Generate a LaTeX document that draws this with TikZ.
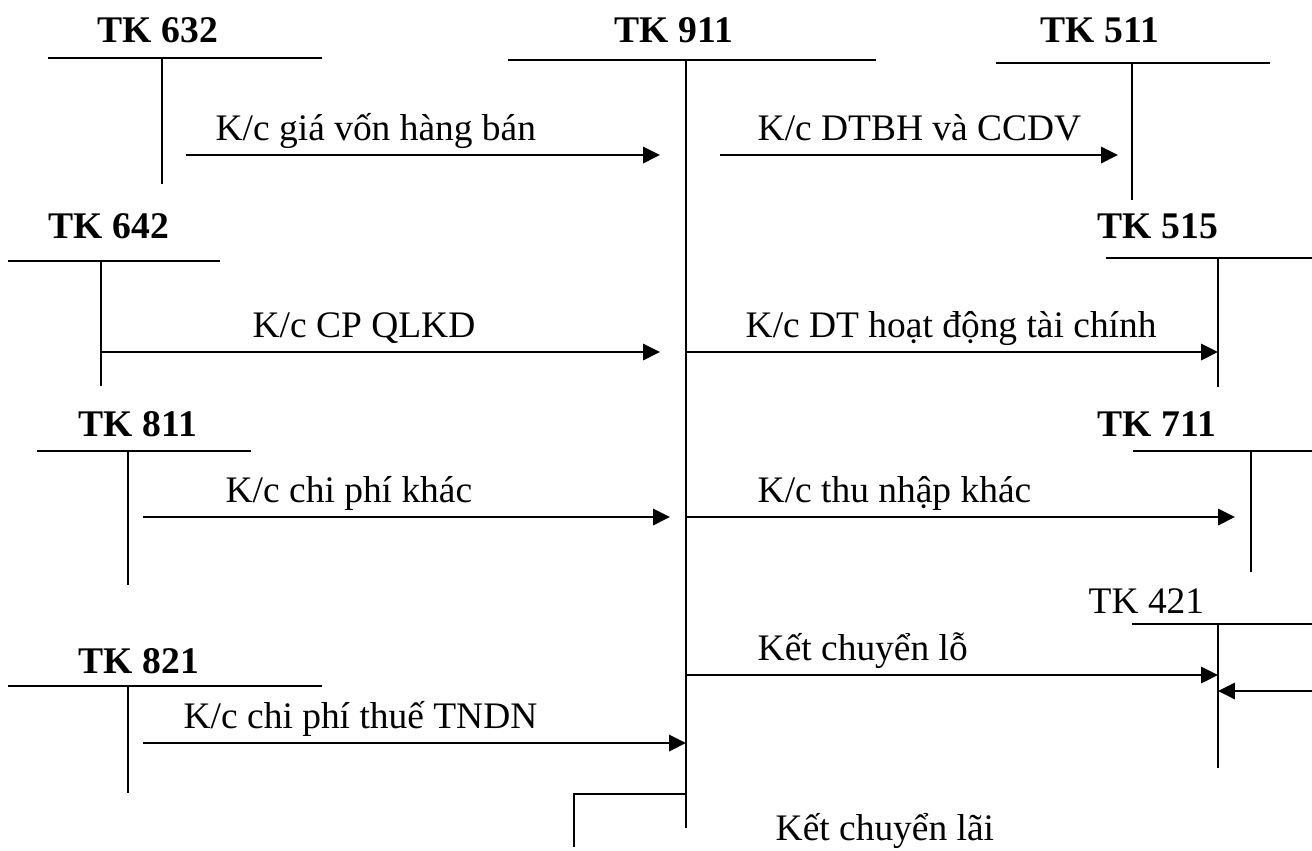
\documentclass[tikz,border=0pt]{standalone}
\usepackage{fontspec}
\setmainfont{Liberation Serif}
\usetikzlibrary{calc, positioning}
\usetikzlibrary{arrows.meta}

\tikzset{
  tline/.style={line width=0.6pt},
  flow/.style={line width=0.7pt, -{Triangle[length=4.8pt, width=4.6pt]}},
  title/.style={anchor=base west, inner sep=0pt, font=\fontsize{10.7pt}{13pt}\selectfont\bfseries},
  plain/.style={anchor=base west, inner sep=0pt, font=\fontsize{10.65pt}{13pt}\selectfont},
}

\begin{document}
\begin{tikzpicture}[x=0.01cm, y=-0.01cm]
\useasboundingbox (0,0) rectangle (1312,850);

% T-accounts
\draw[tline] (48,58) -- (322,58);   \draw[tline] (162,58) -- (162,184);
\draw[tline] (508,60) -- (876,60);  \draw[tline] (686,60) -- (686,828);
\draw[tline] (996,63) -- (1270,63); \draw[tline] (1132,63) -- (1132,200);
\draw[tline] (8,261) -- (220,261);  \draw[tline] (101,261) -- (101,386);
\draw[tline] (1106,258) -- (1312,258); \draw[tline] (1218,258) -- (1218,387);
\draw[tline] (37,451) -- (251,451); \draw[tline] (128,451) -- (128,585);
\draw[tline] (1133,451) -- (1312,451); \draw[tline] (1251,451) -- (1251,572);
\draw[tline] (1132,624) -- (1312,624); \draw[tline] (1218,624) -- (1218,768);
\draw[tline] (8,686) -- (322,686);  \draw[tline] (128,686) -- (128,793);
\draw[tline] (686,794) -- (574,794) -- (574,847);

\node[title] (tk632) at (97,42) {TK 632};
\node[title] (tk911) at (614,42) {TK 911};
\node[title] (tk511) at (1040,42) {TK 511};
\node[title] (tk642) at (48,238) {TK 642};
\node[title] (tk515) at (1097,238) {TK 515};
\node[title] (tk811) at (78,436) {TK 811};
\node[title] (tk711) at (1097,436) {TK 711};
\node[plain] (tk421) at (1088,613) {TK 421};
\node[title] (tk821) at (78,673) {TK 821};

% arrow ends
\coordinate (gvS) at (186,155);  \coordinate (gvE) at (660,155);
\coordinate (dtS) at (720,155);  \coordinate (dtE) at (1118,155);
\coordinate (qlS) at (101,352);  \coordinate (qlE) at (660,352);
\coordinate (tcS) at (686,352);  \coordinate (tcE) at (1218,352);
\coordinate (cpS) at (143,517);  \coordinate (cpE) at (670,517);
\coordinate (tnS) at (686,517);  \coordinate (tnE) at (1235,517);
\coordinate (loS) at (686,675);  \coordinate (loE) at (1218,675);
\coordinate (laS) at (1312,691); \coordinate (laE) at (1218,691);
\coordinate (thS) at (143,743);  \coordinate (thE) at (686,743);

\draw[flow] (gvS) -- (gvE);
\draw[flow] (dtS) -- (dtE);
\draw[flow] (qlS) -- (qlE);
\draw[flow] (tcS) -- (tcE);
\draw[flow] (cpS) -- (cpE);
\draw[flow] (tnS) -- (tnE);
\draw[flow] (loS) -- (loE);
\draw[flow] (laS) -- (laE);
\draw[flow] (thS) -- (thE);

\node[plain] (lblGV) at (215,140) {K/c giá vốn hàng bán};
\node[plain] (lblDT) at (757,140) {K/c DTBH và CCDV};
\node[plain] (lblQL) at (252,337) {K/c CP QLKD};
\node[plain] (lblTC) at (745,337) {K/c DT hoạt động tài chính};
\node[plain] (lblCP) at (225,502) {K/c chi phí khác};
\node[plain] (lblTN) at (757,502) {K/c thu nhập khác};
\node[plain] (lblLo) at (757,660) {Kết chuyển lỗ};
\node[plain] (lblTh) at (183,728) {K/c chi phí thuế TNDN};
\node[plain] (lblLa) at (775,840) {Kết chuyển lãi};
\end{tikzpicture}
\end{document}
